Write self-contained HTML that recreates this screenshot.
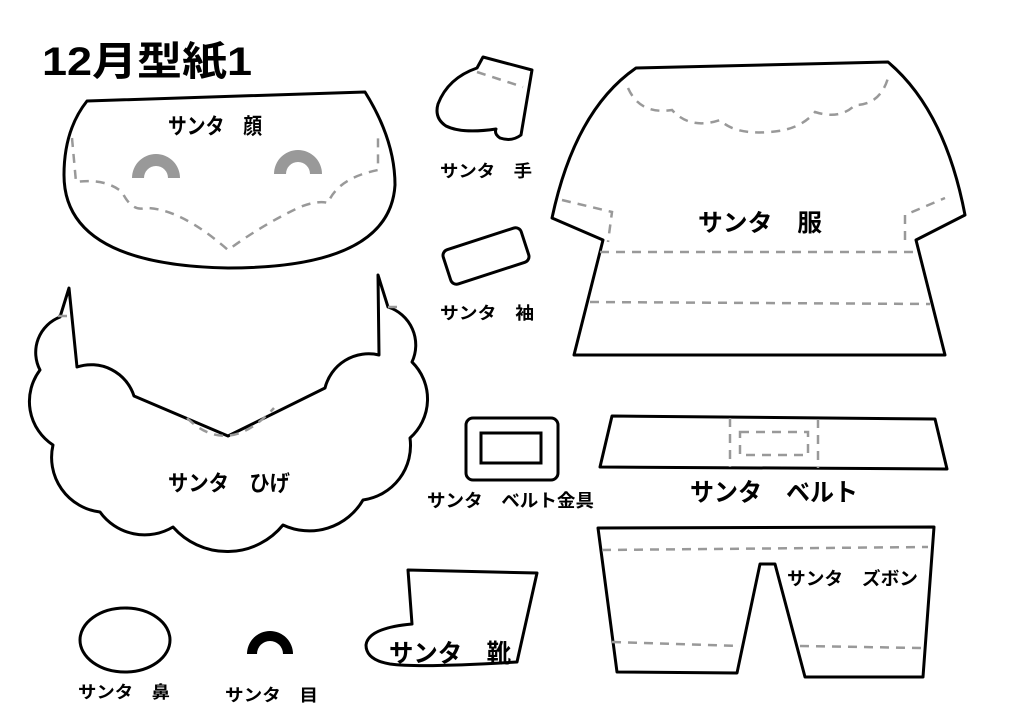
<!DOCTYPE html>
<html><head><meta charset="utf-8"><style>
body{margin:0;background:#fff}
svg{display:block}
text{font-family:"Liberation Sans","Noto Sans CJK JP",sans-serif;font-weight:bold;fill:#000}
.s{fill:#fff;stroke:#000;stroke-width:3;stroke-linejoin:round}
.d{fill:none;stroke:#999;stroke-width:2.5;stroke-dasharray:9,7}
</style></head><body>
<svg width="1024" height="724" viewBox="0 0 1024 724">
<text x="42" y="75" font-size="40" textLength="210" lengthAdjust="spacingAndGlyphs">12月型紙1</text>
<!-- face -->
<path class="s" d="M87,101 L365,92 Q395,140 395,185 Q390,268 228,268 Q64,265 64,175 Q64,130 87,101 Z"/>
<path class="d" d="M72,138 L76,182 Q105,178 122,192 Q132,212 145,208 Q180,208 228,250 Q262,225 300,207 Q318,200 328,203 Q338,178 378,170 L378,135"/>
<path d="M132,178 A24,24 0 0 1 180,178 L168,178 A12,12 0 0 0 144,178 Z" fill="#999"/>
<path d="M274,174 A24,24 0 0 1 322,174 L310,174 A12,12 0 0 0 286,174 Z" fill="#999"/>
<text x="168" y="134" font-size="22" textLength="94" lengthAdjust="spacingAndGlyphs">サンタ　顔</text>
<!-- beard -->
<path class="s" d="M69,288 L77,367 A45,45 0 0 1 134,396 L228,436 L325,388 A45,45 0 0 1 379,355 L378,275 L388,307 A40,40 0 0 1 412,362 A52,52 0 0 1 410,438 A55,55 0 0 1 363,500 A62,62 0 0 1 283,525 A72,72 0 0 1 173,527 A55,55 0 0 1 100,512 A55,55 0 0 1 53,445 A52,52 0 0 1 40,370 A38,38 0 0 1 60,317 Z"/>
<path class="d" d="M187,418 Q228,458 274,408"/>
<path class="d" d="M58,316 L68,316 M388,307 L398,307"/>
<text x="168" y="491" font-size="22" textLength="122" lengthAdjust="spacingAndGlyphs">サンタ　ひげ</text>
<!-- mitten -->
<path class="s" d="M483,57 L532,70 L521,135 Q512,142 500,138 Q494,134 496,129 Q462,134 446,126 Q434,118 438,104 Q448,78 477,68 Z"/>
<path class="d" d="M477,72 L523,87"/>
<text x="440" y="177" font-size="17" textLength="92" lengthAdjust="spacingAndGlyphs">サンタ　手</text>
<!-- sleeve -->
<rect class="s" x="445" y="238" width="82" height="36" rx="6" transform="rotate(-18 486 256)"/>
<text x="440" y="319" font-size="17" textLength="94" lengthAdjust="spacingAndGlyphs">サンタ　袖</text>
<!-- shirt -->
<path class="s" d="M636,68 L888,62 Q945,110 965,215 L916,240 L945,355 L574,355 L603,240 L552,218 Q575,110 636,68 Z"/>
<path class="d" d="M628,88 Q640,115 672,110 Q690,130 720,120 Q735,135 770,132 Q800,130 815,112 Q840,120 855,105 Q880,105 888,78"/>
<path class="d" d="M600,252 L915,252 M590,302 L930,304 M562,200 L612,212 L608,242 M905,240 L905,215 L945,198"/>
<text x="698" y="231" font-size="24" textLength="124" lengthAdjust="spacingAndGlyphs">サンタ　服</text>
<!-- buckle -->
<rect class="s" x="466" y="418" width="92" height="62" rx="7"/>
<rect x="481" y="433" width="60" height="30" fill="none" stroke="#000" stroke-width="3"/>
<text x="427" y="507" font-size="18" textLength="167" lengthAdjust="spacingAndGlyphs">サンタ　ベルト金具</text>
<!-- belt -->
<path class="s" d="M612,416 L935,419 L947,469 L600,467 Z"/>
<path class="d" d="M730,418 L730,467 M818,419 L818,468 M740,432 L808,432 L808,455 L740,455 Z"/>
<text x="690" y="501" font-size="25" textLength="168" lengthAdjust="spacingAndGlyphs">サンタ　ベルト</text>
<!-- pants -->
<path class="s" d="M598,528 L934,527 L923,677 L805,677 L775,564 L760,564 L737,673 L617,672 Z"/>
<path class="d" d="M602,550 L928,547 M612,642 L740,646 M800,646 L922,648"/>
<text x="787" y="585" font-size="18" textLength="131" lengthAdjust="spacingAndGlyphs">サンタ　ズボン</text>
<!-- boot -->
<path class="s" d="M408,570 L537,573 L517,662 Q420,668 390,664 Q366,660 366,645 Q368,628 412,624 Z"/>
<text x="389" y="662" font-size="25" textLength="122" lengthAdjust="spacingAndGlyphs">サンタ　靴</text>
<!-- nose -->
<ellipse class="s" cx="125" cy="640" rx="45" ry="32" stroke-width="2"/>
<text x="78" y="698" font-size="17" textLength="92" lengthAdjust="spacingAndGlyphs">サンタ　鼻</text>
<!-- eye -->
<path d="M247,654 A23,23 0 0 1 293,654 L283,654 A13,13 0 0 0 257,654 Z" fill="#000"/>
<text x="225" y="701" font-size="17" textLength="93" lengthAdjust="spacingAndGlyphs">サンタ　目</text>
</svg>
</body></html>
